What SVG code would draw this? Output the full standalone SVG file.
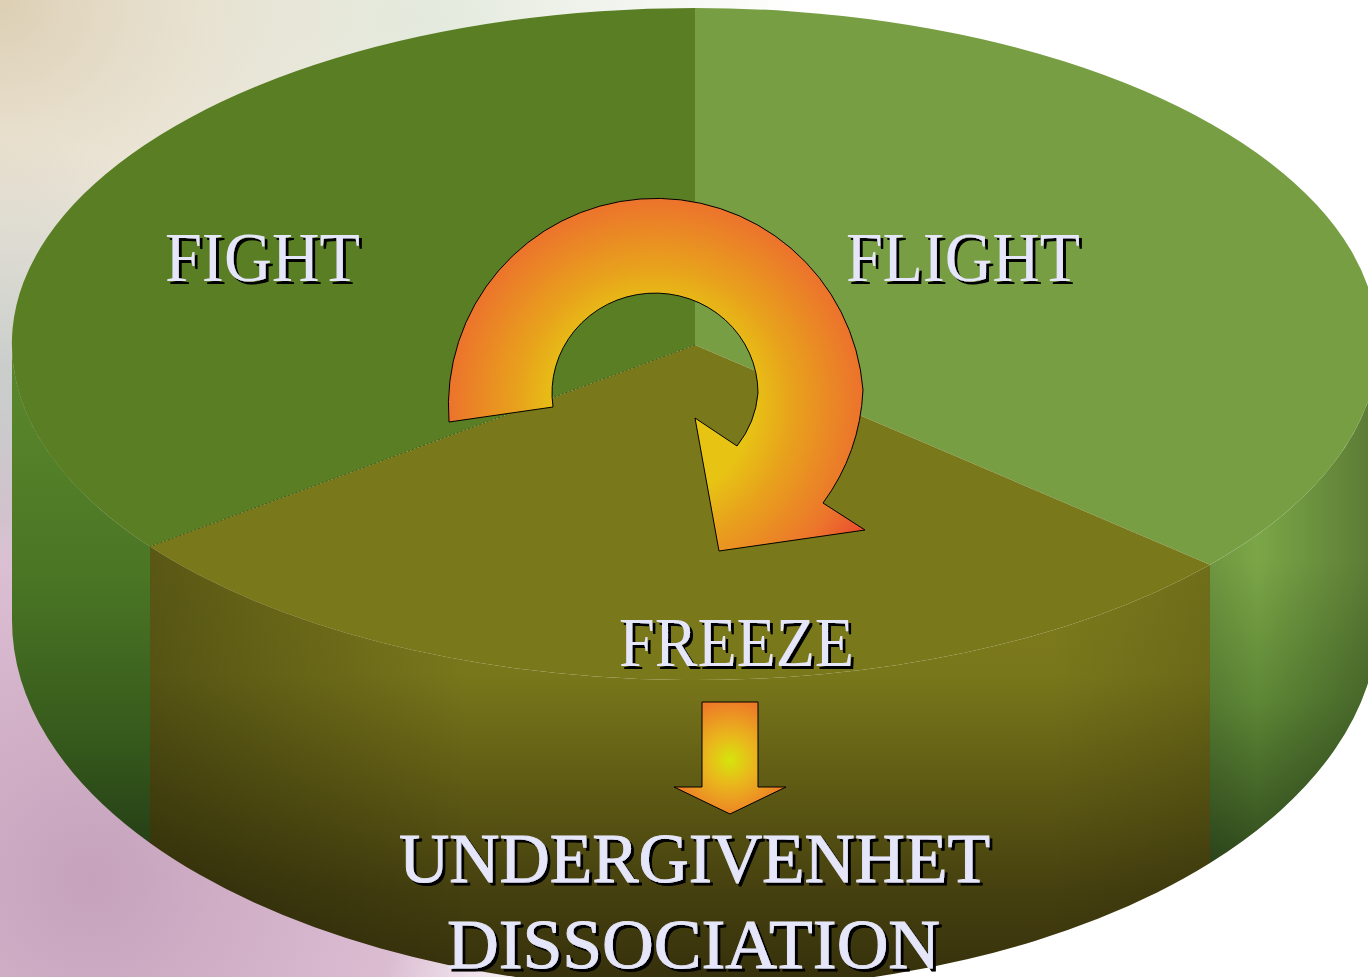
<svg xmlns="http://www.w3.org/2000/svg" width="1368" height="977" viewBox="0 0 1368 977">
<defs>
<radialGradient id="bgTL" cx="0" cy="0" r="420" gradientUnits="userSpaceOnUse"><stop offset="0" stop-color="#dccfb4"/><stop offset="1" stop-color="#dccfb4" stop-opacity="0"/></radialGradient>
<radialGradient id="bgTM" cx="420" cy="20" r="380" gradientUnits="userSpaceOnUse"><stop offset="0" stop-color="#e3e9dc"/><stop offset="1" stop-color="#e3e9dc" stop-opacity="0"/></radialGradient>
<radialGradient id="bgL" cx="0" cy="520" r="380" gradientUnits="userSpaceOnUse"><stop offset="0" stop-color="#a9b0ad"/><stop offset="1" stop-color="#a9b0ad" stop-opacity="0"/></radialGradient>
<radialGradient id="bgBL" cx="90" cy="880" r="520" gradientUnits="userSpaceOnUse"><stop offset="0" stop-color="#c6a2bc"/><stop offset="0.6" stop-color="#dbbdd2"/><stop offset="1" stop-color="#f3e6ee" stop-opacity="0"/></radialGradient>
<linearGradient id="leftWall" x1="0" y1="400" x2="0" y2="850" gradientUnits="userSpaceOnUse"><stop offset="0" stop-color="#58852b"/><stop offset="0.4" stop-color="#4a7524"/><stop offset="0.75" stop-color="#365a1c"/><stop offset="1" stop-color="#253f16"/></linearGradient>
<linearGradient id="rightWall" x1="0" y1="560" x2="0" y2="870" gradientUnits="userSpaceOnUse"><stop offset="0" stop-color="#7ba647"/><stop offset="0.45" stop-color="#5e8836"/><stop offset="1" stop-color="#2e481c"/></linearGradient>
<linearGradient id="rightWallShade" x1="1210" y1="0" x2="1368" y2="0" gradientUnits="userSpaceOnUse"><stop offset="0" stop-color="#000" stop-opacity="0.1"/><stop offset="0.3" stop-color="#000" stop-opacity="0"/><stop offset="1" stop-color="#000" stop-opacity="0.25"/></linearGradient>
<linearGradient id="front" x1="0" y1="546" x2="0" y2="977" gradientUnits="userSpaceOnUse"><stop offset="0" stop-color="#7f7d1d"/><stop offset="0.3" stop-color="#79771b"/><stop offset="0.6" stop-color="#5a5613"/><stop offset="0.8" stop-color="#45400f"/><stop offset="1" stop-color="#37310c"/></linearGradient>
<linearGradient id="frontShade" x1="150" y1="0" x2="1210" y2="0" gradientUnits="userSpaceOnUse"><stop offset="0" stop-color="#000" stop-opacity="0.3"/><stop offset="0.3" stop-color="#000" stop-opacity="0"/><stop offset="0.85" stop-color="#000" stop-opacity="0"/><stop offset="1" stop-color="#000" stop-opacity="0.12"/></linearGradient>
<radialGradient id="curl" cx="655" cy="405" r="250" gradientUnits="userSpaceOnUse"><stop offset="0.38" stop-color="#e7c414"/><stop offset="0.55" stop-color="#e8a21c"/><stop offset="0.82" stop-color="#ec742c"/><stop offset="1" stop-color="#e9452f"/></radialGradient>
<radialGradient id="down" cx="730" cy="760" r="60" gradientUnits="userSpaceOnUse"><stop offset="0" stop-color="#d6e40c"/><stop offset="0.4" stop-color="#e9b81c"/><stop offset="1" stop-color="#ee7a28"/></radialGradient>
<filter id="shadow" x="-10%" y="-20%" width="120%" height="150%"><feDropShadow dx="3" dy="3" stdDeviation="0.6" flood-color="#000" flood-opacity="1"/></filter>
</defs>
<style>
.lbl{font-family:"Liberation Serif","DejaVu Serif",serif;font-size:69px;fill:#e6e6fa;filter:url(#shadow)}
.big{stroke:#e6e6fa;stroke-width:0.9}
.arr{stroke:#000;stroke-width:1;stroke-linejoin:miter}
</style>
<rect width="1368" height="977" fill="#ffffff"/>
<rect width="1368" height="977" fill="url(#bgTM)"/>
<rect width="1368" height="977" fill="url(#bgTL)"/>
<rect width="1368" height="977" fill="url(#bgL)"/>
<rect width="1368" height="977" fill="url(#bgBL)"/>

<g id="side-walls">
<path d="M12,344 L12,620 A683,370 0 0 0 150,843 L150,546.6 A683,336 0 0 1 12,344 Z" fill="url(#leftWall)"/>
<path d="M1210,564.7 L1210,863 A683,370 0 0 0 1378,620 L1378,344 A683,336 0 0 1 1210,564.7 Z" fill="url(#rightWall)"/>
<path d="M1210,564.7 L1210,863 A683,370 0 0 0 1378,620 L1378,344 A683,336 0 0 1 1210,564.7 Z" fill="url(#rightWallShade)"/>
</g>

<g id="fight">
<path d="M695,345 L695,8 A683,336 0 0 0 150,546.6 Z" fill="#5a7e23"/>
<text class="lbl" x="165" y="281" textLength="195" lengthAdjust="spacingAndGlyphs">FIGHT</text>
</g>
<g id="flight">
<path d="M695,345 L695,8 A683,336 0 0 1 1210,564.7 Z" fill="#789e44"/>
<text class="lbl" x="846" y="281" textLength="234" lengthAdjust="spacingAndGlyphs">FLIGHT</text>
</g>
<g id="freeze">
<path d="M150,546.6 L150,843 A683,370 0 0 0 1210,863 L1210,564.7 A683,336 0 0 1 150,546.6 Z" fill="url(#front)"/>
<path d="M150,546.6 L150,843 A683,370 0 0 0 1210,863 L1210,564.7 A683,336 0 0 1 150,546.6 Z" fill="url(#frontShade)"/>
<path d="M695,345 L1210,564.7 A683,336 0 0 1 150,546.6 Z" fill="#79781a"/>
<path d="M695,345 L150,546.6" stroke="#3f5a14" stroke-width="1" stroke-dasharray="2,2" fill="none"/>
<text class="lbl" x="619" y="666" textLength="235" lengthAdjust="spacingAndGlyphs">FREEZE</text>
</g>
<g id="outcome">
<text class="lbl big" x="399" y="882" textLength="591" lengthAdjust="spacingAndGlyphs">UNDERGIVENHET</text>
<text class="lbl big" x="447" y="968" textLength="493" lengthAdjust="spacingAndGlyphs">DISSOCIATION</text>
</g>

<g id="connectors">
<path class="arr" fill="url(#curl)" d="M449,422 A207,207 0 0 1 863,390 A207,207 0 0 1 823,503 L865,530 L719,551 L695,418 L737,446 A103,100 0 0 0 758,393 A103,100 0 1 0 553,407 Z"/>
<path class="arr" fill="url(#down)" d="M702,702 L758,702 L758,787 L786,787 L730,814 L674,787 L702,787 Z"/>
</g>
</svg>
